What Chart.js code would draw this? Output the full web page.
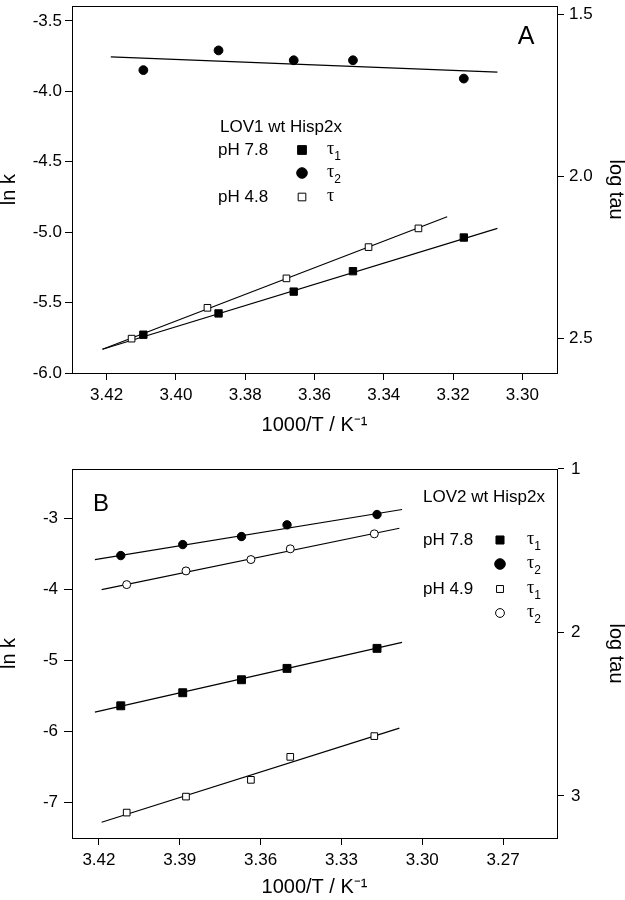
<!DOCTYPE html>
<html>
<head>
<meta charset="utf-8">
<script src="https://cdn.jsdelivr.net/npm/chart.js@4.4.0/dist/chart.umd.min.js"></script>
<style>
  html, body { margin: 0; padding: 0; background: #fff; }
  #wrap { position: relative; width: 625px; height: 900px; }
  .panel { position: absolute; left: 0; width: 625px; }
  #panelA { top: 0; height: 438px; }
  #panelB { top: 440px; height: 460px; }
</style>
</head>
<body>
<div id="wrap">
  <div class="panel" id="panelA"><canvas id="chartA"></canvas></div>
  <div class="panel" id="panelB"><canvas id="chartB"></canvas></div>
</div>
<script>
// ---- Panel A: LOV1 wt Hisp2x ----
const aX78 = [3.4094, 3.3877, 3.3660, 3.3489, 3.3169];
const aTau1pH78 = [-5.728, -5.577, -5.422, -5.277, -5.038];
const aTau2pH78 = [-3.849, -3.709, -3.779, -3.779, -3.909];
const aX48 = [3.4128, 3.3909, 3.3681, 3.3444, 3.3300];
const aTauPH48 = [-5.756, -5.537, -5.328, -5.106, -4.973];
// fitted lines, [start, end]
const aFitTau2X = [3.4188, 3.3072], aFitTau2Y = [-3.755, -3.863];
const aFitTau1X = [3.4212, 3.3072], aFitTau1Y = [-5.831, -4.973];
const aFit48X = [3.4212, 3.3217], aFit48Y = [-5.831, -4.890];
const aXTicks = [3.42, 3.40, 3.38, 3.36, 3.34, 3.32, 3.30];
const aYTicks = [-3.5, -4.0, -4.5, -5.0, -5.5, -6.0];
const aTauTicks = [1.5, 2.0, 2.5];

// ---- Panel B: LOV2 wt Hisp2x ----
const bX78 = [3.4119, 3.3889, 3.3671, 3.3502, 3.3168];
const bTau1pH78 = [-5.638, -5.454, -5.271, -5.111, -4.829];
const bTau2pH78 = [-3.522, -3.367, -3.254, -3.089, -2.944];
const bX49 = [3.4097, 3.3877, 3.3636, 3.3490, 3.3178];
const bTau1pH49 = [-7.142, -6.917, -6.681, -6.357, -6.065];
const bTau2pH49 = [-3.931, -3.738, -3.578, -3.427, -3.216];
const bFitTau2_78X = [3.4215, 3.3075], bFitTau2_78Y = [-3.578, -2.873];
const bFitTau2_49X = [3.4190, 3.3085], bFitTau2_49Y = [-4.001, -3.137];
const bFitTau1_78X = [3.4215, 3.3075], bFitTau1_78Y = [-5.726, -4.745];
const bFitTau1_49X = [3.4190, 3.3085], bFitTau1_49Y = [-7.278, -5.952];
const bXTicks = [3.42, 3.39, 3.36, 3.33, 3.30, 3.27];
const bYTicks = [-3, -4, -5, -6, -7];
const bTauTicks = [1, 2, 3];

const FONT = "'Liberation Sans', Arial, sans-serif";
Chart.defaults.font.family = FONT;
Chart.defaults.color = '#000';

const pts = (xs, ys) => xs.map((x, i) => ({ x: x, y: ys[i] }));

function marks(xs, ys, style, r, filled) {
  return {
    type: 'scatter', data: pts(xs, ys), pointStyle: style, pointRadius: r,
    backgroundColor: filled ? '#000' : '#fff', borderColor: '#000', borderWidth: 1
  };
}
function fit(xs, ys) {
  return {
    type: 'line', data: pts(xs, ys), borderColor: '#000', borderWidth: 1.2,
    pointRadius: 0, fill: false, tension: 0
  };
}

function noPad(s) { s.paddingTop = 0; s.paddingBottom = 0; s.paddingLeft = 0; s.paddingRight = 0; }

function axis(o) {
  return {
    type: 'linear', position: o.pos, min: o.min, max: o.max, reverse: !!o.reverse,
    afterBuildTicks: s => { s.ticks = o.ticks.map(v => ({ value: v })); },
    afterFit: s => { if (o.w != null) s.width = o.w; if (o.h != null) s.height = o.h; noPad(s); },
    grid: { drawOnChartArea: false, drawTicks: true, tickLength: o.tl, color: '#000', lineWidth: 1 },
    border: { display: true, color: '#000', width: 1 },
    ticks: { padding: o.tp, font: { size: 17 }, color: '#000', callback: o.fmt, maxRotation: 0, autoSkip: false },
    title: { display: true, text: o.title, font: { size: 20 }, color: '#000', padding: o.titlePad }
  };
}

// frame, legend block and panel letter
const decor = {
  id: 'decor',
  afterDraw(chart, args, opts) {
    const ctx = chart.ctx, a = chart.chartArea;
    ctx.save();
    ctx.strokeStyle = '#000';
    ctx.lineWidth = 1;
    ctx.strokeRect(Math.round(a.left) + 0.5, Math.round(a.top) + 0.5,
      Math.round(a.right - a.left), Math.round(a.bottom - a.top));

    ctx.fillStyle = '#000';
    ctx.textBaseline = 'middle';
    ctx.textAlign = 'center';
    ctx.font = opts.letterSize + 'px ' + FONT;
    ctx.fillText(opts.letter, opts.letterX, opts.letterY);

    ctx.textAlign = 'left';
    ctx.font = '17px ' + FONT;
    ctx.fillText(opts.title, opts.titleX, opts.titleY);
    opts.rows.forEach(r => {
      ctx.font = '17px ' + FONT;
      ctx.fillStyle = '#000';
      if (r.group) ctx.fillText(r.group, opts.groupX, r.y);
      ctx.fillStyle = r.filled ? '#000' : '#fff';
      ctx.strokeStyle = '#000';
      ctx.lineWidth = 1;
      Chart.helpers.drawPoint(ctx, { pointStyle: r.style, radius: r.r, borderWidth: 1, rotation: 0 }, opts.markX, r.y);
      ctx.fillStyle = '#000';
      ctx.font = '18px "Liberation Serif", serif';
      ctx.fillText('τ', opts.tauX, r.y - 1);
      if (r.sub) {
        const w = ctx.measureText('τ').width;
        ctx.font = '12px ' + FONT;
        ctx.fillText(r.sub, opts.tauX + w, r.y + 7);
      }
    });
    ctx.restore();
  }
};

const LN10 = Math.LN10;

// Panel A
const aYMin = -6.0, aYMax = -3.395;
new Chart(document.getElementById('chartA'), {
  type: 'scatter',
  data: {
    datasets: [
      marks(aX78, aTau2pH78, 'circle', 4.4, true),
      marks(aX78, aTau1pH78, 'rect', 5.2, true),
      marks(aX48, aTauPH48, 'rect', 4.7, false),
      fit(aFitTau2X, aFitTau2Y),
      fit(aFitTau1X, aFitTau1Y),
      fit(aFit48X, aFit48Y)
    ]
  },
  options: {
    responsive: true, maintainAspectRatio: false, animation: false,
    layout: { padding: { top: 2, left: 0, right: 0, bottom: 0 } },
    plugins: {
      legend: { display: false }, tooltip: { enabled: false },
      decor: {
        letter: 'A', letterX: 526, letterY: 37, letterSize: 25,
        title: 'LOV1 wt Hisp2x', titleX: 220, titleY: 127,
        groupX: 218, markX: 302, tauX: 327,
        rows: [
          { group: 'pH 7.8', y: 150, style: 'rect', r: 6.2, filled: true, sub: '1' },
          { y: 173, style: 'circle', r: 5.3, filled: true, sub: '2' },
          { group: 'pH 4.8', y: 197, style: 'rect', r: 5.4, filled: false, sub: '' }
        ]
      }
    },
    scales: {
      x: axis({ pos: 'bottom', min: 3.29, max: 3.43, reverse: true, ticks: aXTicks, h: 65, tl: 7, tp: 5,
        fmt: v => v.toFixed(2), title: '1000/T / K⁻¹', titlePad: { top: 0, bottom: 1 } }),
      y: axis({ pos: 'left', min: aYMin, max: aYMax, ticks: aYTicks, w: 72, tl: 7, tp: 3,
        fmt: v => v.toFixed(1), title: 'ln k', titlePad: { top: -3, bottom: 0 } }),
      y2: axis({ pos: 'right', min: -aYMax / LN10, max: -aYMin / LN10, reverse: true, ticks: aTauTicks, w: 68, tl: 7, tp: 5,
        fmt: v => v.toFixed(1), title: 'log tau', titlePad: { top: -3, bottom: 0 } })
    }
  },
  plugins: [decor]
});

// Panel B
const bYMin = -7.5, bYMax = -2.3026;
new Chart(document.getElementById('chartB'), {
  type: 'scatter',
  data: {
    datasets: [
      marks(bX78, bTau2pH78, 'circle', 4.2, true),
      marks(bX49, bTau2pH49, 'circle', 4.0, false),
      marks(bX78, bTau1pH78, 'rect', 5.6, true),
      marks(bX49, bTau1pH49, 'rect', 4.7, false),
      fit(bFitTau2_78X, bFitTau2_78Y),
      fit(bFitTau2_49X, bFitTau2_49Y),
      fit(bFitTau1_78X, bFitTau1_78Y),
      fit(bFitTau1_49X, bFitTau1_49Y)
    ]
  },
  options: {
    responsive: true, maintainAspectRatio: false, animation: false,
    layout: { padding: { top: 29, left: 0, right: 0, bottom: 0 } },
    plugins: {
      legend: { display: false }, tooltip: { enabled: false },
      decor: {
        letter: 'B', letterX: 101, letterY: 64, letterSize: 24,
        title: 'LOV2 wt Hisp2x', titleX: 423, titleY: 57,
        groupX: 423, markX: 500, tauX: 527,
        rows: [
          { group: 'pH 7.8', y: 100, style: 'rect', r: 5.7, filled: true, sub: '1' },
          { y: 124, style: 'circle', r: 5.3, filled: true, sub: '2' },
          { group: 'pH 4.9', y: 149, style: 'rect', r: 4.9, filled: false, sub: '1' },
          { y: 173, style: 'circle', r: 4.4, filled: false, sub: '2' }
        ]
      }
    },
    scales: {
      x: axis({ pos: 'bottom', min: 3.25, max: 3.43, reverse: true, ticks: bXTicks, h: 62, tl: 7, tp: 5,
        fmt: v => v.toFixed(2), title: '1000/T / K⁻¹', titlePad: { top: 0, bottom: 1 } }),
      y: axis({ pos: 'left', min: bYMin, max: bYMax, ticks: bYTicks, w: 72, tl: 8, tp: 6,
        fmt: v => String(v), title: 'ln k', titlePad: { top: -3, bottom: 0 } }),
      y2: axis({ pos: 'right', min: -bYMax / LN10, max: -bYMin / LN10, reverse: true, ticks: bTauTicks, w: 68, tl: 7, tp: 7,
        fmt: v => String(v), title: 'log tau', titlePad: { top: -3, bottom: 0 } })
    }
  },
  plugins: [decor]
});
</script>
</body>
</html>
